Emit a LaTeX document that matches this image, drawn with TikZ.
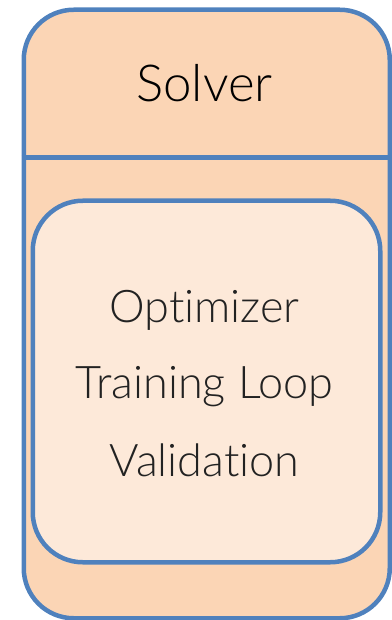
\documentclass[tikz,border=0pt]{standalone}
\usepackage{fontspec}
\setmainfont{Lato}[Ligatures=NoCommon]
\newfontfamily\lightfont{Lato Light}[Ligatures=NoCommon]
\definecolor{edge}{HTML}{4F81BD}
\definecolor{outerfill}{HTML}{FBD5B5}
\definecolor{innerfill}{HTML}{FDE9D9}
\definecolor{txt}{HTML}{222222}
\tikzset{
  boxline/.style={draw=edge, line width=4.5pt, rounded corners=50pt},
  itemtext/.style={font=\lightfont\fontsize{45}{50}\selectfont, text=txt, inner sep=0pt, anchor=base},
}
\begin{document}
\begin{tikzpicture}[x=1pt,y=-1pt]
\useasboundingbox (0,0) rectangle (391,620);
\node[boxline, fill=outerfill, minimum width=366pt, minimum height=608.5pt, anchor=north west] (outer) at (21.5,7.5) {};
\coordinate (dl) at (21.5,157.5);
\coordinate (dr) at (387.5,157.5);
\draw[draw=edge, line width=4.5pt] (dl) -- (dr);
\node[boxline, fill=innerfill, minimum width=347.5pt, minimum height=361.5pt, anchor=north west] (inner) at (30.5,198.5) {};
\node[itemtext, font=\lightfont\fontsize{51}{56}\selectfont, text=black] (solver) at (204.5,102) {Solver};
\node[itemtext] (opt) at (204.5,322) {Optimizer};
\node[itemtext] (train) at (204.5,398) {Training Loop};
\node[itemtext] (val) at (204.5,476) {Validation};
\end{tikzpicture}
\end{document}
